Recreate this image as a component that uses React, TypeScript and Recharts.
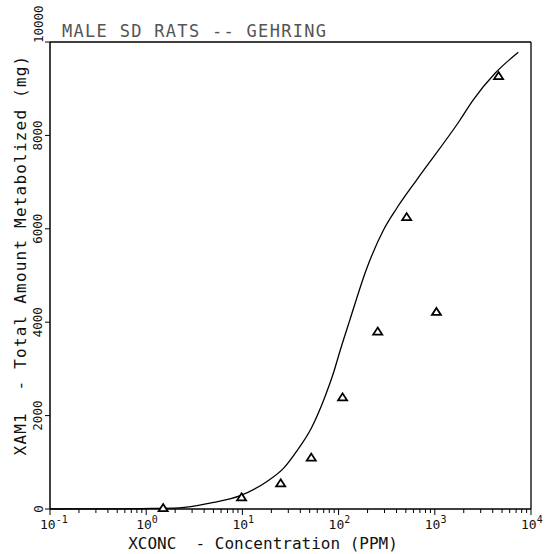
import { ComposedChart, Line, Scatter, XAxis, YAxis, ReferenceLine } from 'recharts'

const FONT = '"DejaVu Sans Mono", "Liberation Mono", monospace'

// x axis decades and their exponent labels
const X_MAJOR = [0.1, 1, 10, 100, 1000, 10000]
const X_EXPONENTS = ['-1', '0', '1', '2', '3', '4']
const Y_TICKS = [0, 2000, 4000, 6000, 8000, 10000]

// fitted model curve (concentration ppm -> mg metabolized)
const CURVE_X = [0.1, 0.5, 0.9, 2.2, 4.6, 9.5, 18, 27, 37, 52, 72, 88, 104, 131, 196, 292, 402, 649, 1830, 2510, 4230, 7380]
const CURVE_Y = [0, 3, 10, 25, 125, 285, 590, 880, 1250, 1730, 2400, 2900, 3400, 4050, 5150, 5970, 6440, 7050, 8330, 8760, 9330, 9780]

// observed values (triangles)
const OBS_X = [1.5, 9.8, 25, 52, 110, 255, 510, 1040, 4600]
const OBS_Y = [20, 250, 550, 1100, 2390, 3800, 6250, 4220, 9270]

const curve = CURVE_X.map((x, i) => ({ x, y: CURVE_Y[i] }))
const observed = OBS_X.map((x, i) => ({ x, y: OBS_Y[i] }))

// log minor ticks 1..9 per decade
const X_TICKS = X_MAJOR.flatMap((m, i) =>
  i === X_MAJOR.length - 1 ? [m] : [1, 2, 3, 4, 5, 6, 7, 8, 9].map((k) => Number((k * m).toPrecision(3)))
)

function XTick({ x, y, payload }: any) {
  const idx = X_MAJOR.indexOf(payload.value)
  const major = idx >= 0
  return (
    <g>
      <line x1={x} x2={x} y1={y} y2={y + (major ? 6 : 4)} stroke="#000" strokeWidth={1} />
      {major && (
        <text x={x - 10} y={y + 20} fontFamily={FONT} fontSize={13} fill="#111">
          10
          <tspan dy={-6} fontSize={10}>
            {X_EXPONENTS[idx]}
          </tspan>
        </text>
      )}
    </g>
  )
}

function YTick({ x, y, payload }: any) {
  const top = payload.value === 10000
  const lx = x - 12
  const ly = top ? y + 1 : y
  return (
    <g>
      <line x1={x} x2={x - 5} y1={y} y2={y} stroke="#000" strokeWidth={1} />
      <text
        x={lx}
        y={ly}
        transform={`rotate(-90 ${lx} ${ly})`}
        textAnchor={top ? 'start' : 'middle'}
        dominantBaseline="central"
        fontFamily={FONT}
        fontSize={12.5}
        fill="#111"
      >
        {payload.value}
      </text>
    </g>
  )
}

function Triangle({ cx, cy }: any) {
  if (cx == null || cy == null) return null
  return (
    <path
      d={`M${cx},${cy - 4} L${cx + 4.5},${cy + 3} L${cx - 4.5},${cy + 3} Z`}
      fill="#fff"
      stroke="#000"
      strokeWidth={1.8}
    />
  )
}

export default function App() {
  return (
    <div style={{ position: 'absolute', left: 0, top: 0, background: '#fff' }}>
      <ComposedChart width={548} height={554} margin={{ top: 42, right: 17, bottom: 0, left: 0 }}>
        <XAxis
          dataKey="x"
          type="number"
          scale="log"
          domain={[0.1, 10000]}
          ticks={X_TICKS}
          interval={0}
          tickLine={false}
          tickSize={0}
          tickMargin={0}
          tick={<XTick />}
          height={45}
          axisLine={{ stroke: '#000', strokeWidth: 1.3 }}
          allowDataOverflow
        />
        <YAxis
          type="number"
          domain={[0, 10000]}
          ticks={Y_TICKS}
          interval={0}
          tickLine={false}
          tickSize={0}
          tickMargin={0}
          tick={<YTick />}
          width={50}
          axisLine={{ stroke: '#000', strokeWidth: 1.5 }}
        />
        <ReferenceLine y={10000} stroke="#000" strokeWidth={1.3} />
        <ReferenceLine x={10000} stroke="#000" strokeWidth={1.3} />
        <Line
          data={curve}
          dataKey="y"
          type="monotone"
          dot={false}
          stroke="#000"
          strokeWidth={1.3}
          isAnimationActive={false}
        />
        <Scatter data={observed} dataKey="y" shape={<Triangle />} isAnimationActive={false} />
        <text x={62} y={37} fontFamily={FONT} fontSize={17} letterSpacing={1.3} fill="#555">
          MALE SD RATS -- GEHRING
        </text>
        <text
          x={263}
          y={543}
          textAnchor="middle"
          dominantBaseline="central"
          fontFamily={FONT}
          fontSize={16}
          fill="#111"
          style={{ whiteSpace: 'pre' }}
        >
          {'XCONC  - Concentration (PPM)'}
        </text>
        <text
          x={20}
          y={255}
          transform="rotate(-90 20 255)"
          textAnchor="middle"
          dominantBaseline="central"
          fontFamily={FONT}
          fontSize={16}
          letterSpacing={1.2}
          fill="#111"
          style={{ whiteSpace: 'pre' }}
        >
          {'XAM1  - Total Amount Metabolized (mg)'}
        </text>
      </ComposedChart>
    </div>
  )
}
